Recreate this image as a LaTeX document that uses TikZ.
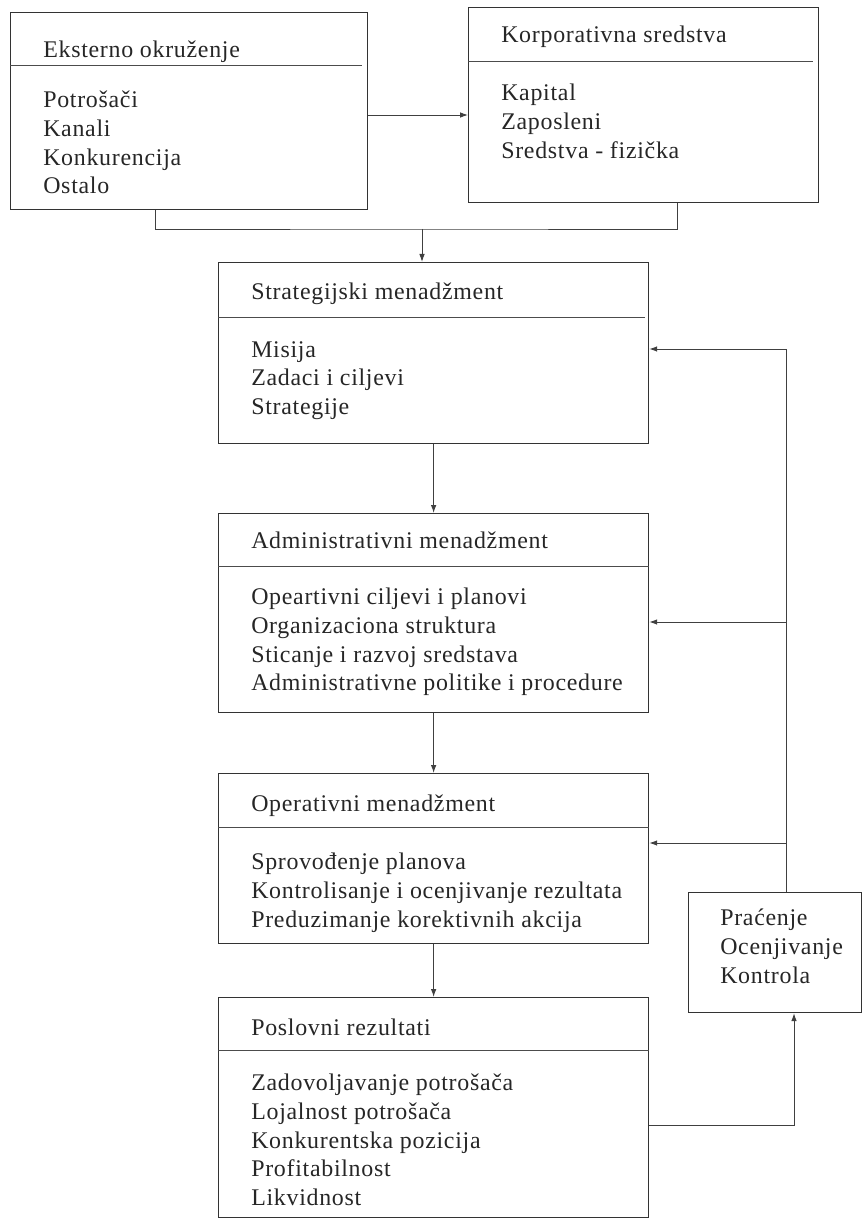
\documentclass[tikz,border=0pt]{standalone}
\usepackage{fontspec}
\setmainfont[LetterSpace=3]{Liberation Serif}
\usetikzlibrary{positioning, arrows.meta, calc}

\begin{document}
\begin{tikzpicture}[
    x=0.025cm, y=-0.025cm,
    panel/.style={rectangle, draw=black!80, line width=0.8pt, anchor=north west, inner sep=0pt},
    head/.style={anchor=base west, inner sep=0pt, font=\fontsize{17}{20.4}\selectfont, text=black!85},
    items/.style={anchor=north west, inner sep=0pt, align=left, font=\fontsize{17}{20.4}\selectfont, text=black!85},
    rule/.style={draw=black!70, line width=0.6pt},
    wire/.style={draw=black!75, line width=0.7pt},
    arr/.style={wire, -{Latex[length=2mm, width=1.4mm]}},
]
\useasboundingbox (0,0) rectangle (863,1220);

% Top row: environment and resources
\node[panel, minimum width=8.925cm, minimum height=4.925cm] (ext) at (10,12) {};
\node[head] (ext-t) at ($(ext.north west)+(33,46)$) {Eksterno okruženje};
\draw[rule] ($(ext.north west)+(0,53)$) -- ($(ext.north east)+(-6,53)$);
\node[items] (ext-i) at ($(ext.north west)+(33,79)$) {Potrošači\\Kanali\\Konkurencija\\Ostalo};

\node[panel, minimum width=8.75cm, minimum height=4.875cm] (res) at (468,7) {};
\node[head] (res-t) at ($(res.north west)+(33,36)$) {Korporativna sredstva};
\draw[rule] ($(res.north west)+(0,54)$) -- ($(res.north east)+(-6,54)$);
\node[items] (res-i) at ($(res.north west)+(33,77)$) {Kapital\\Zaposleni\\Sredstva - fizička};

% Management levels
\node[panel, minimum width=10.75cm, minimum height=4.525cm] (strat) at (218,262) {};
\node[head] (strat-t) at ($(strat.north west)+(33,38)$) {Strategijski menadžment};
\draw[rule] ($(strat.north west)+(0,55)$) -- ($(strat.north east)+(-4,55)$);
\node[items] (strat-i) at ($(strat.north west)+(33,79)$) {Misija\\Zadaci i ciljevi\\Strategije};

\node[panel, minimum width=10.75cm, minimum height=4.975cm] (admin) at (218,513) {};
\node[head] (admin-t) at ($(admin.north west)+(33,35)$) {Administrativni menadžment};
\draw[rule] ($(admin.north west)+(0,53)$) -- ($(admin.north east)+(0,53)$);
\node[items] (admin-i) at ($(admin.north west)+(33,75)$) {Opeartivni ciljevi i planovi\\Organizaciona struktura\\Sticanje i razvoj sredstava\\Administrativne politike i procedure};

\node[panel, minimum width=10.75cm, minimum height=4.25cm] (oper) at (218,773) {};
\node[head] (oper-t) at ($(oper.north west)+(33,38)$) {Operativni menadžment};
\draw[rule] ($(oper.north west)+(0,54)$) -- ($(oper.north east)+(0,54)$);
\node[items] (oper-i) at ($(oper.north west)+(33,80)$) {Sprovođenje planova\\Kontrolisanje i ocenjivanje rezultata\\Preduzimanje korektivnih akcija};

\node[panel, minimum width=10.75cm, minimum height=5.5cm] (rez) at (218,997) {};
\node[head] (rez-t) at ($(rez.north west)+(33,38)$) {Poslovni rezultati};
\draw[rule] ($(rez.north west)+(0,53)$) -- ($(rez.north east)+(0,53)$);
\node[items] (rez-i) at ($(rez.north west)+(33,77)$) {Zadovoljavanje potrošača\\Lojalnost potrošača\\Konkurentska pozicija\\Profitabilnost\\Likvidnost};

% Monitoring box
\node[panel, minimum width=4.325cm, minimum height=3.0cm] (ctrl) at (688,892) {};
\node[items] (ctrl-i) at ($(ctrl.north west)+(32,17)$) {Praćenje\\Ocenjivanje\\Kontrola};

% Junction points
\coordinate (hz) at (0,115);
\coordinate (mrg) at (422,229);
\coordinate (fb1) at (786,349);
\coordinate (fb2) at (786,622);
\coordinate (fb3) at (786,843);
\coordinate (rb) at (794,1125);

% Top links
\draw[arr] (hz -| ext.east) -- (hz -| res.west);
\draw[wire] ([xshift=-0.85cm]ext.south) |- (mrg) -| ([xshift=0.85cm]res.south);
\draw[arr] (mrg) -- (mrg |- strat.north);

% Downward chain
\draw[arr] (strat) -- (admin);
\draw[arr] (admin) -- (oper);
\draw[arr] (oper) -- (rez);

% Feedback loop
\draw[arr] (rb -| rez.east) -- (rb) -- (rb |- ctrl.south);
\draw[wire] (fb1 |- ctrl.north) -- (fb1);
\draw[arr] (fb1) -- (fb1 -| strat.east);
\draw[arr] (fb2) -- (fb2 -| admin.east);
\draw[arr] (fb3) -- (fb3 -| oper.east);

\end{tikzpicture}
\end{document}
